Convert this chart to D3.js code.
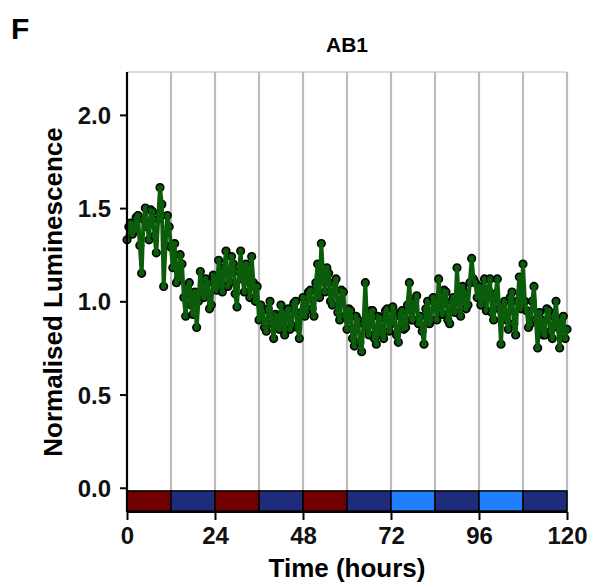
<!DOCTYPE html>
<html>
<head>
<meta charset="utf-8">
<script src="https://cdn.jsdelivr.net/npm/d3@7"></script>
<style>
  body { margin: 0; background: #fff; }
  text { font-family: "Liberation Sans", Arial, sans-serif; font-weight: bold; }
</style>
</head>
<body>
<svg id="chart"></svg>
<script>
// ---- data ----
// sampled every 30 min, 0..120 h
const hours = d3.range(0, 120.5, 0.5);
const luminescence = [
  // 0-12 h
  1.33, 1.40, 1.42, 1.36, 1.38, 1.45, 1.46, 1.30, 1.15, 1.44, 1.50, 1.40,
  1.33, 1.49, 1.48, 1.35, 1.26, 1.44, 1.61, 1.52, 1.08, 1.30, 1.46, 1.40,
  // 12-24 h
  1.29, 1.18, 1.31, 1.10, 1.12, 1.25, 1.20, 1.02, 0.92, 1.08, 1.10, 0.98,
  0.93, 1.05, 0.86, 1.00, 1.16, 1.04, 1.02, 1.12, 1.10, 0.96, 0.98, 1.14,
  // 24-36 h
  1.12, 1.06, 1.22, 1.10, 1.05, 1.18, 1.27, 1.08, 1.10, 1.24, 1.20, 1.04,
  0.97, 1.16, 1.27, 1.12, 1.05, 1.20, 1.15, 1.02, 1.24, 1.10, 1.00, 1.08,
  // 36-48 h
  0.90, 0.98, 0.95, 0.86, 0.84, 0.96, 1.00, 0.88, 0.80, 0.93, 0.92, 0.85,
  0.98, 0.90, 0.82, 0.95, 0.96, 0.85, 0.87, 0.99, 1.00, 0.86, 0.80, 0.94,
  // 48-60 h
  1.02, 0.92, 0.95, 1.05, 1.06, 0.96, 0.92, 1.10, 1.20, 1.02, 1.31, 1.12,
  1.05, 1.18, 1.15, 1.00, 0.98, 1.10, 1.12, 0.94, 0.90, 1.06, 1.05, 0.92,
  // 60-72 h
  0.85, 0.96, 0.95, 0.80, 0.76, 0.92, 0.90, 0.78, 0.73, 0.88, 1.10, 0.86,
  0.82, 0.95, 0.95, 0.80, 0.77, 0.92, 0.91, 0.82, 0.80, 0.95, 0.96, 0.84,
  // 72-84 h
  0.88, 0.97, 0.92, 0.82, 0.78, 0.94, 0.95, 0.85, 0.86, 0.98, 1.10, 0.90,
  0.90, 1.00, 1.03, 0.88, 0.92, 0.84, 0.77, 0.96, 1.00, 0.88, 0.90, 1.02,
  // 84-96 h
  1.00, 0.90, 1.12, 0.98, 0.93, 1.06, 1.05, 0.90, 0.88, 1.00, 1.02, 0.94,
  1.18, 1.00, 0.92, 1.08, 1.05, 0.96, 0.98, 1.10, 1.23, 1.12, 1.10, 1.02,
  // 96-108 h
  1.08, 0.98, 1.02, 1.12, 0.95, 1.06, 1.12, 0.94, 0.90, 1.04, 1.12, 0.96,
  0.77, 0.98, 1.00, 0.90, 0.85, 1.02, 1.05, 0.88, 0.82, 1.00, 1.13, 0.96,
  // 108-120 h
  1.20, 1.00, 0.95, 0.86, 0.88, 1.00, 1.08, 0.90, 0.75, 0.94, 0.90, 0.82,
  0.82, 0.96, 0.95, 0.84, 0.80, 0.92, 1.00, 0.86, 0.75, 0.90, 0.92, 0.80,
  0.85
];
// light regime per 12 h block
const blockStarts = [0, 12, 24, 36, 48, 60, 72, 84, 96, 108];
const blockTypes = ["red", "dark", "red", "dark", "red", "dark", "blue", "dark", "blue", "dark"];
const xTicks = [0, 24, 48, 72, 96, 120];
const yTicks = [0, 0.5, 1.0, 1.5, 2.0];
const gridHours = [12, 24, 36, 48, 60, 72, 84, 96, 108, 120];

(() => {
const blockColor = { red: "#730000", dark: "#1f2c7c", blue: "#1f80ff" };

// ---- layout ----
const width = 600, height = 587;
const pLeft = 127, pRight = 567, pTop = 72, pBottom = 512;

const svg = d3.select("#chart").attr("width", width).attr("height", height);

const x = d3.scaleLinear().domain([0, 120]).range([pLeft, pRight]);
const y = d3.scaleLinear().domain([-0.13, 2.23]).range([pBottom, pTop]);

// top border
svg.append("line")
  .attr("x1", pLeft).attr("x2", pRight)
  .attr("y1", pTop).attr("y2", pTop)
  .attr("stroke", "#d2d2d2").attr("stroke-width", 1.5);

// vertical grid lines
svg.append("g").selectAll("line")
  .data(gridHours)
  .join("line")
  .attr("x1", d => x(d)).attr("x2", d => x(d))
  .attr("y1", pTop).attr("y2", pBottom)
  .attr("stroke", "#bdbdbd").attr("stroke-width", 2.2);

// light/dark bars
svg.append("g").selectAll("rect")
  .data(blockStarts)
  .join("rect")
  .attr("x", d => x(d))
  .attr("y", y(-0.017))
  .attr("width", d => x(d + 12) - x(d))
  .attr("height", y(-0.125) - y(-0.017))
  .attr("fill", (d, i) => blockColor[blockTypes[i]])
  .attr("stroke", "#000")
  .attr("stroke-width", 1.5);

// points, then the line over them
svg.append("g").selectAll("circle")
  .data(luminescence)
  .join("circle")
  .attr("cx", (d, i) => x(hours[i]))
  .attr("cy", d => y(d))
  .attr("r", 3.8)
  .attr("fill", "#0b5a0b")
  .attr("stroke", "#000")
  .attr("stroke-width", 1.6);

const line = d3.line().x((d, i) => x(hours[i])).y(d => y(d));
svg.append("path")
  .datum(luminescence)
  .attr("d", line)
  .attr("fill", "none")
  .attr("stroke", "#0b5c0b")
  .attr("stroke-width", 4)
  .attr("stroke-linejoin", "round");

// axes
const yAxis = svg.append("g")
  .attr("transform", `translate(${pLeft},0)`)
  .call(d3.axisLeft(y).tickValues(yTicks).tickFormat(d3.format(".1f")).tickSize(7).tickPadding(9));
const xAxis = svg.append("g")
  .attr("transform", `translate(0,${pBottom})`)
  .call(d3.axisBottom(x).tickValues(xTicks).tickSize(8).tickPadding(7));

[yAxis, xAxis].forEach(ax => {
  ax.select(".domain").attr("stroke", "#000").attr("stroke-width", 2.2);
  ax.selectAll(".tick line").attr("stroke", "#000").attr("stroke-width", 2);
  ax.selectAll(".tick text").attr("fill", "#111").style("font-size", "24px");
});
yAxis.selectAll(".tick text").attr("dy", "0.36em");
yAxis.select(".domain").attr("d", `M0,${pTop}V${pBottom}`);
xAxis.select(".domain").attr("d", `M${pLeft},0H${pRight}`);

// labels
svg.append("text")
  .attr("x", (pLeft + pRight) / 2).attr("y", 577)
  .attr("text-anchor", "middle")
  .style("font-size", "26px")
  .text("Time (hours)");

svg.append("text")
  .attr("transform", `translate(62,${(pTop + pBottom) / 2}) rotate(-90)`)
  .attr("text-anchor", "middle")
  .style("font-size", "26px")
  .text("Normalised Luminescence");

svg.append("text")
  .attr("x", (pLeft + pRight) / 2).attr("y", 52)
  .attr("text-anchor", "middle")
  .style("font-size", "21px")
  .text("AB1");

svg.append("text")
  .attr("x", 11).attr("y", 39)
  .style("font-size", "30px")
  .text("F");
})();
</script>
</body>
</html>
